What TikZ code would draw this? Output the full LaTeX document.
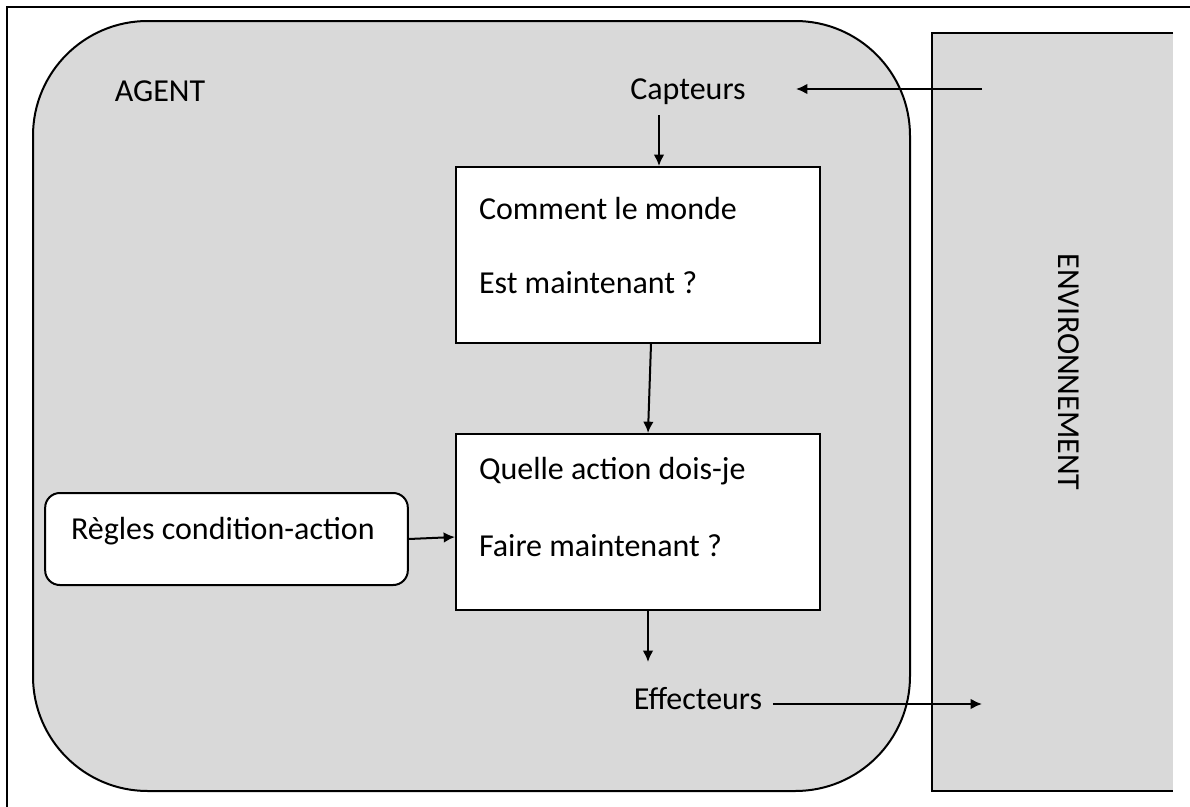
\documentclass[tikz,border=0pt]{standalone}
\usepackage{fontspec}
\setmainfont{Carlito}
\usetikzlibrary{positioning, arrows.meta}
\definecolor{fond}{RGB}{217,217,217}

\tikzset{
  boite/.style={draw, fill=white, minimum width=273pt, minimum height=132pt},
  regle/.style={draw, fill=white, rounded corners=11pt, minimum width=272pt,
    minimum height=69pt},
  ligne/.style={anchor=west, inner sep=0pt}
}

\begin{document}
\begin{tikzpicture}[x=0.75pt, y=-0.75pt, line width=1.5pt,
    >={Latex[length=8.5pt, width=8pt]},
    font=\fontsize{24}{28}\selectfont]
  \useasboundingbox (0,0) rectangle (1190,807);

  % Cadre
  \draw (7,807) -- (7,7) -- (1190,7);

  % Agent et environnement
  \draw[fill=fond, rounded corners=86pt] (33,21) rectangle (910,791);
  \fill[fond] (932,33) rectangle (1173,791);
  \draw (1173,33) -- (932,33) -- (932,791) -- (1173,791);
  \node[rotate=-90] (env) at (1069,372) {ENVIRONNEMENT};

  % Textes
  \node (agent) at (160,91) {AGENT};
  \node (capteurs) at (688,92) {Capteurs};
  \node (effecteurs) at (698,699) {Effecteurs};

  % Boites
  \node[boite] (monde) at (638,255) {};
  \node[ligne] (monde1) at (478,209) {Comment le monde};
  \node[ligne] (monde2) at (478,283) {Est maintenant ?};

  \node[boite] (action) at (638,522) {};
  \node[ligne] (action1) at (478,471) {Quelle action dois-je};
  \node[ligne] (action2) at (478,546) {Faire maintenant ?};

  \node[regle] (regles) at (226.5,539) {};
  \node[ligne] (regles1) at (70,531) {Règles condition-action};

  % Fleches
  \coordinate (envhaut) at (982,89);
  \coordinate (capt) at (796,89);
  \coordinate (envbas) at (982,704);
  \coordinate (c1) at (659,115);
  \coordinate (e1) at (648,662);

  \draw[->] (envhaut) -- (capt);
  \draw[->] (c1) -- (c1 |- monde.north);
  \draw[->] ([xshift=9.75pt]monde.south) -- ([xshift=7.5pt]action.north);
  \draw[->] (regles.east) -- ([yshift=1.5pt]regles.east -| action.west);
  \draw[->] (e1 |- action.south) -- (e1);
  \draw[->] (effecteurs.east |- envbas) ++(4pt,0) -- (envbas);
\end{tikzpicture}
\end{document}
